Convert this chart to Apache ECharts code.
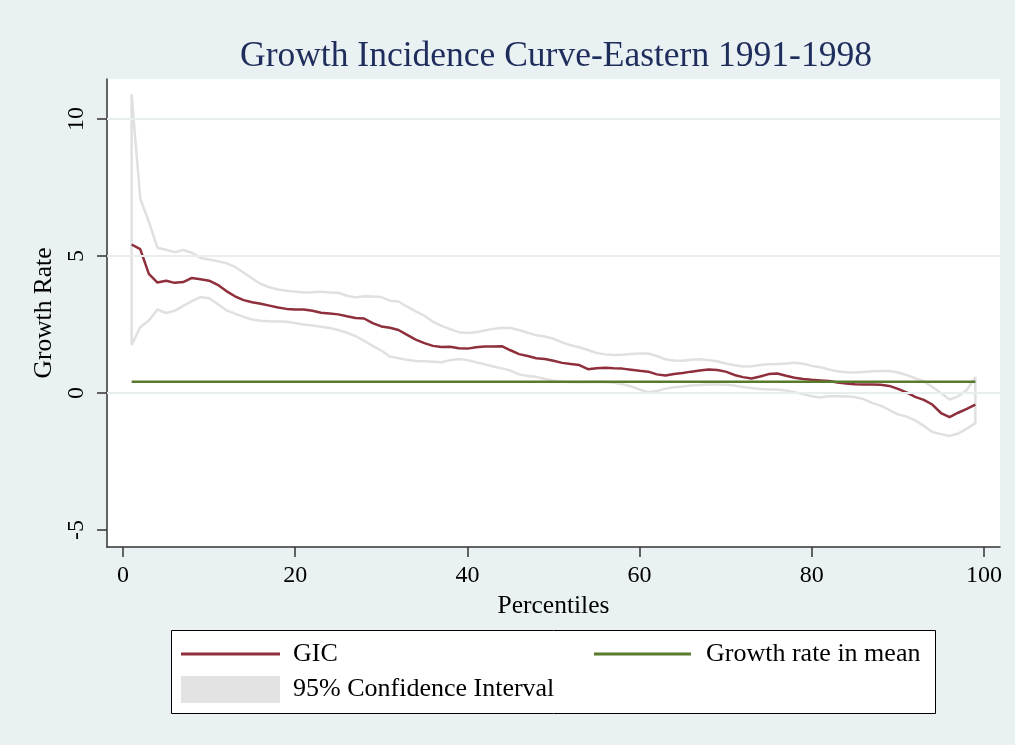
<!DOCTYPE html>
<html>
<head>
<meta charset="utf-8">
<script src="https://cdn.jsdelivr.net/npm/echarts@6/dist/echarts.min.js"></script>
<style>
  html, body { margin: 0; padding: 0; background: #eaf1f3; }
  #chart { width: 1015px; height: 745px; }
</style>
</head>
<body>
<div id="chart"></div>
<script>
// percentiles 1..99
const pctl = [
  1, 2, 3, 4, 5, 6, 7, 8, 9, 10, 11, 12, 13, 14, 15, 16, 17, 18, 19, 20,
  21, 22, 23, 24, 25, 26, 27, 28, 29, 30, 31, 32, 33, 34, 35, 36, 37, 38, 39, 40,
  41, 42, 43, 44, 45, 46, 47, 48, 49, 50, 51, 52, 53, 54, 55, 56, 57, 58, 59, 60,
  61, 62, 63, 64, 65, 66, 67, 68, 69, 70, 71, 72, 73, 74, 75, 76, 77, 78, 79, 80,
  81, 82, 83, 84, 85, 86, 87, 88, 89, 90, 91, 92, 93, 94, 95, 96, 97, 98, 99
]

const gic = [
  5.42, 5.25, 4.35, 4.03, 4.10, 4.02, 4.05, 4.20, 4.15, 4.10,
  3.95, 3.72, 3.53, 3.39, 3.31, 3.26, 3.19, 3.12, 3.07, 3.05,
  3.05, 3.00, 2.93, 2.90, 2.87, 2.80, 2.74, 2.72, 2.55, 2.43,
  2.38, 2.30, 2.12, 1.95, 1.82, 1.72, 1.68, 1.69, 1.63, 1.62,
  1.67, 1.70, 1.70, 1.71, 1.56, 1.42, 1.35, 1.27, 1.24, 1.18,
  1.10, 1.06, 1.02, 0.87, 0.90, 0.92, 0.90, 0.89, 0.85, 0.81,
  0.78, 0.68, 0.64, 0.69, 0.73, 0.78, 0.82, 0.86, 0.84, 0.78,
  0.66, 0.58, 0.53, 0.60, 0.69, 0.71, 0.63, 0.56, 0.51, 0.48,
  0.46, 0.44, 0.38, 0.35, 0.32, 0.31, 0.31, 0.30, 0.26, 0.15,
  0.02, -0.14, -0.25, -0.42, -0.73, -0.88, -0.72, -0.58, -0.42
]

const ciUpper = [
  10.9, 7.10, 6.25, 5.30, 5.23, 5.14, 5.22, 5.12, 4.93, 4.87,
  4.81, 4.74, 4.60, 4.40, 4.18, 3.98, 3.86, 3.78, 3.73, 3.70,
  3.67, 3.68, 3.70, 3.67, 3.66, 3.55, 3.49, 3.53, 3.52, 3.50,
  3.37, 3.34, 3.15, 2.98, 2.82, 2.60, 2.45, 2.33, 2.22, 2.19,
  2.22, 2.28, 2.34, 2.38, 2.37, 2.30, 2.20, 2.11, 2.06, 1.98,
  1.85, 1.74, 1.67, 1.57, 1.46, 1.41, 1.39, 1.40, 1.42, 1.44,
  1.44, 1.35, 1.23, 1.19, 1.18, 1.21, 1.23, 1.20, 1.16, 1.08,
  1.01, 0.97, 0.98, 1.02, 1.05, 1.06, 1.08, 1.10, 1.07, 0.99,
  0.94, 0.86, 0.79, 0.76, 0.75, 0.77, 0.79, 0.80, 0.80, 0.75,
  0.66, 0.54, 0.42, 0.22, 0.00, -0.24, -0.12, 0.11, 0.58
]

const ciLower = [
  1.75, 2.40, 2.65, 3.05, 2.92, 3.00, 3.18, 3.35, 3.50, 3.46,
  3.25, 3.02, 2.90, 2.78, 2.68, 2.64, 2.62, 2.61, 2.60, 2.55,
  2.50, 2.46, 2.42, 2.37, 2.30, 2.20, 2.08, 1.90, 1.72, 1.55,
  1.33, 1.27, 1.21, 1.17, 1.16, 1.14, 1.12, 1.20, 1.24, 1.20,
  1.12, 1.05, 0.97, 0.90, 0.82, 0.68, 0.62, 0.59, 0.51, 0.45,
  0.41, 0.40, 0.39, 0.40, 0.41, 0.40, 0.37, 0.32, 0.24, 0.13,
  0.03, 0.07, 0.16, 0.21, 0.24, 0.27, 0.29, 0.31, 0.31, 0.30,
  0.27, 0.22, 0.18, 0.15, 0.13, 0.13, 0.09, 0.03, -0.04, -0.12,
  -0.16, -0.12, -0.12, -0.13, -0.15, -0.22, -0.36, -0.46, -0.62, -0.78,
  -0.86, -1.00, -1.20, -1.42, -1.50, -1.57, -1.48, -1.30, -1.10
]

const meanGrowth = 0.41
const xTicks = [0, 20, 40, 60, 80, 100]
const yTicks = [-5, 0, 5, 10]
const yGrid = [0, 5, 10]

const serif = 'Liberation Serif'

// outline of the confidence band: along the upper bound, back along the lower one
const ciOutline = pctl.map((p, i) => [p, ciUpper[i]])
    .concat(pctl.map((p, i) => [p, ciLower[i]]).reverse())
ciOutline.push([pctl[0], ciUpper[0]])

const legendText = (gap) => ({ fontFamily: serif, fontSize: 26, color: '#000', padding: [0, 0, 0, gap] })

const chart = echarts.init(document.getElementById('chart'))

chart.setOption({
    backgroundColor: '#eaf1f3',
    animation: false,
    title: {
        text: 'Growth Incidence Curve-Eastern 1991-1998',
        left: 240,
        top: 39,
        padding: 0,
        textStyle: { fontFamily: serif, fontSize: 35.5, fontWeight: 'normal', color: '#1f2d5c' },
    },
    grid: {
        left: 107,
        right: 15,
        top: 79,
        bottom: 198,
        show: true,
        backgroundColor: '#ffffff',
        borderWidth: 0,
    },
    // legend frame
    graphic: [{
        type: 'rect',
        left: 171,
        top: 630,
        z: 1,
        silent: true,
        shape: { x: 0, y: 0, width: 764, height: 83 },
        style: { fill: '#ffffff', stroke: '#000000', lineWidth: 1 },
    }],
    legend: [
        {
            z: 10, left: 181, top: 641, padding: 0, itemWidth: 99, itemHeight: 3,
            textStyle: legendText(8),
            data: [{ name: 'GIC', icon: 'rect' }],
        },
        {
            z: 10, left: 594, top: 641, padding: 0, itemWidth: 97, itemHeight: 3,
            textStyle: legendText(10),
            data: [{ name: 'Growth rate in mean', icon: 'rect' }],
        },
        {
            z: 10, left: 181, top: 676, padding: 0, itemWidth: 99, itemHeight: 27,
            textStyle: legendText(8),
            data: [{ name: '95% Confidence Interval', icon: 'rect', itemStyle: { color: '#e3e3e3', borderWidth: 0 } }],
        },
    ],
    xAxis: {
        type: 'value',
        min: -1.86,
        max: 101.86,
        name: 'Percentiles',
        nameLocation: 'middle',
        nameGap: 43,
        nameTextStyle: { fontFamily: serif, fontSize: 25.5, color: '#000' },
        axisLine: { onZero: false, lineStyle: { color: '#333', width: 1.5 } },
        axisTick: { customValues: xTicks, length: 10, lineStyle: { color: '#333', width: 1.5 } },
        axisLabel: { customValues: xTicks, margin: 17, fontFamily: serif, fontSize: 24, color: '#000' },
        splitLine: { show: false },
    },
    yAxis: {
        type: 'value',
        min: -5.62,
        max: 11.46,
        name: 'Growth Rate',
        nameLocation: 'middle',
        nameRotate: 90,
        nameGap: 44,
        nameTextStyle: { fontFamily: serif, fontSize: 25.5, color: '#000' },
        axisLine: { show: true, onZero: false, lineStyle: { color: '#333', width: 1.5 } },
        axisTick: { show: true, customValues: yTicks, length: 10, lineStyle: { color: '#333', width: 1.5 } },
        axisLabel: { customValues: yTicks, rotate: 90, margin: 18, fontFamily: serif, fontSize: 24, color: '#000' },
        splitLine: { show: false },
    },
    series: [
        {
            name: '95% Confidence Interval',
            type: 'line',
            data: ciOutline,
            symbol: 'none',
            color: '#e0e0e0',
            lineStyle: { color: '#e0e0e0', width: 2.5 },
            markLine: {
                silent: true,
                symbol: 'none',
                label: { show: false },
                lineStyle: { color: '#e6eef0', width: 2, type: 'solid' },
                data: yGrid.map((v) => ({ yAxis: v })),
            },
            z: 1,
        },
        {
            name: 'GIC',
            type: 'line',
            data: pctl.map((p, i) => [p, gic[i]]),
            symbol: 'none',
            color: '#8e2f3b',
            lineStyle: { color: '#8e2f3b', width: 2.5 },
            z: 3,
        },
        {
            name: 'Growth rate in mean',
            type: 'line',
            data: [[pctl[0], meanGrowth], [pctl[pctl.length - 1], meanGrowth]],
            symbol: 'none',
            color: '#587a2c',
            lineStyle: { color: '#587a2c', width: 2.5 },
            z: 4,
        },
    ],
})
</script>
</body>
</html>
